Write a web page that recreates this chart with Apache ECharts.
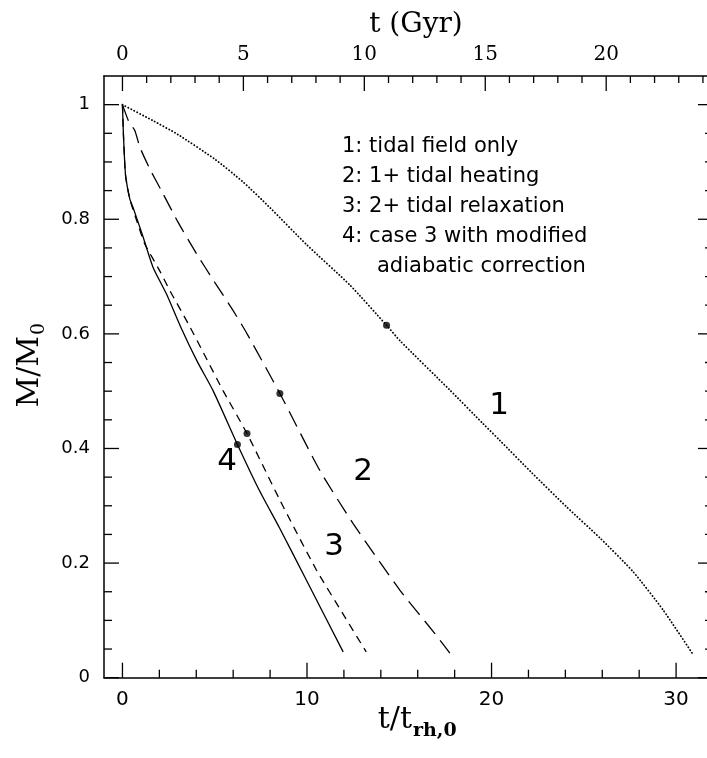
<!DOCTYPE html>
<html><head><meta charset="utf-8">
<script src="https://cdn.jsdelivr.net/npm/echarts@6.0.0/dist/echarts.min.js"></script>
<style>html,body{margin:0;padding:0;background:#fff}#c{width:707px;height:758px}</style>
</head><body><div id="c"></div>
<script>
// ---- data ----
const TRH_GYR = 0.763; // Gyr per t_rh,0 unit (top axis conversion)
const curve1 = [[0,1],[1.66,0.972],[3,0.948],[5,0.905],[6.54,0.865],[8,0.82],[10,0.755],[12.33,0.685],[14.31,0.615],[15.04,0.588],[17.74,0.502],[19.55,0.443],[20.45,0.414],[22.2,0.357],[24.07,0.298],[25.9,0.243],[27.67,0.185],[29.3,0.118],[30.93,0.04]];
const curve2 = [[0,1],[0.35,0.97],[0.67,0.955],[0.94,0.926],[1.48,0.888],[2.11,0.85],[3.01,0.795],[4.01,0.74],[5.0,0.69],[5.99,0.641],[6.72,0.602],[8.53,0.496],[10.69,0.362],[12.5,0.269],[15.03,0.153],[16.93,0.077],[17.74,0.043]];
const curve3 = [[0,1],[0.05,0.95],[0.12,0.9],[0.18,0.873],[0.4,0.835],[0.85,0.79],[1.21,0.757],[2.02,0.71],[2.56,0.676],[3.56,0.618],[4.5,0.56],[5.45,0.501],[6.75,0.426],[8.53,0.31],[10.51,0.188],[11.9,0.114],[13.21,0.045]];
const curve4 = [[0,1],[0.05,0.95],[0.12,0.9],[0.18,0.873],[0.4,0.835],[0.57,0.821],[1.12,0.769],[1.66,0.716],[2.38,0.67],[3.2,0.609],[4.05,0.552],[4.91,0.501],[6.23,0.407],[7.4,0.328],[8.5,0.262],[9.97,0.17],[11.96,0.045]];
const dots = [[14.31,0.615],[8.53,0.496],[6.75,0.426],[6.23,0.407]];
const xMajor = [0,10,20,30];
const xMinor = [2,4,6,8,12,14,16,18,22,24,26,28,32];
const gyrMajor = [0,5,10,15,20];
const gyrMinor = [1,2,3,4,6,7,8,9,11,12,13,14,16,17,18,19,21,22,23,24];
const yMajor = [0,0.2,0.4,0.6,0.8,1];
const yMinor = [0.05,0.1,0.15,0.25,0.3,0.35,0.45,0.5,0.55,0.65,0.7,0.75,0.85,0.9,0.95];
const legendLines = ['1: tidal field only','2: 1+ tidal heating','3: 2+ tidal relaxation','4: case 3 with modified','adiabatic correction'];
const curveLabels = ['1','2','3','4'];

const X_MIN=-1, X_MAX=32, Y_MIN=0, Y_MAX=1.05;
const MAJ=15, MIN_LEN=8;
const black='#000';
const serif = '"DejaVu Serif", serif';
const gothic = '"DejaVu Sans", sans-serif';

// tick table: [side(0 bottom,1 top,2 left,3 right), value, length]
const tickData = [];
xMajor.forEach(v=>tickData.push([0,v,MAJ])); xMinor.forEach(v=>tickData.push([0,v,MIN_LEN]));
gyrMajor.forEach(v=>tickData.push([1,v,MAJ])); gyrMinor.forEach(v=>tickData.push([1,v,7]));
yMajor.forEach(v=>{tickData.push([2,v,MAJ]);tickData.push([3,v,MAJ]);});
yMinor.forEach(v=>{tickData.push([2,v,MIN_LEN]);tickData.push([3,v,MIN_LEN]);});

function renderTick(params, api){
  const side=api.value(0), v=api.value(1), len=api.value(2);
  let p, q;
  if(side===0){ p=api.coord([v,Y_MIN]); q=[p[0],p[1]-len]; }
  else if(side===1){ p=api.coord([v/TRH_GYR,Y_MAX]); q=[p[0],p[1]+len]; }
  else if(side===2){ p=api.coord([X_MIN,v]); q=[p[0]+len,p[1]]; }
  else { p=api.coord([X_MAX,v]); q=[p[0]-len,p[1]]; }
  return {type:'line', shape:{x1:p[0],y1:p[1],x2:q[0],y2:q[1]}, style:{stroke:black,lineWidth:1.3}};
}
const lineBase = {type:'line', showSymbol:false, smooth:0.2};

const option = {
  animation:false,
  backgroundColor:'#fff',
  grid:{left:104, top:76, right:-6, bottom:80.3, containLabel:false, outerBoundsMode:'none'},
  xAxis:[
    {type:'value', position:'bottom', min:X_MIN, max:X_MAX,
      axisLine:{show:true,onZero:false,lineStyle:{color:black,width:1.5}},
      axisTick:{show:false}, splitLine:{show:false},
      axisLabel:{show:true, customValues:xMajor, margin:12, color:black, fontFamily:gothic, fontSize:20}},
    {type:'value', position:'top', min:X_MIN*TRH_GYR, max:X_MAX*TRH_GYR,
      axisLine:{show:true,onZero:false,lineStyle:{color:black,width:1.5}},
      axisTick:{show:false}, splitLine:{show:false},
      axisLabel:{show:true, customValues:gyrMajor, margin:11, color:black, fontFamily:serif, fontSize:20}}
  ],
  yAxis:[
    {type:'value', position:'left', min:Y_MIN, max:Y_MAX,
      axisLine:{show:true,onZero:false,lineStyle:{color:black,width:1.5}},
      axisTick:{show:false}, splitLine:{show:false},
      axisLabel:{show:true,customValues:yMajor,margin:14,color:black,fontFamily:gothic,fontSize:18}},
    {type:'value', position:'right', min:Y_MIN, max:Y_MAX,
      axisLine:{show:true,onZero:false,lineStyle:{color:black,width:1.5}},
      axisTick:{show:false}, axisLabel:{show:false}, splitLine:{show:false}}
  ],
  series:[
    {type:'custom', xAxisIndex:0, yAxisIndex:0, data:tickData, renderItem:renderTick, clip:false, silent:true,
      dimensions:['side','val','len'], encode:{x:-1,y:-1}},
    Object.assign({}, lineBase, {data:curve1, lineStyle:{color:black,width:1.8,type:[0.2,3.1],cap:'round'}}),
    Object.assign({}, lineBase, {data:curve2, lineStyle:{color:black,width:1.3,type:[17,8]}}),
    Object.assign({}, lineBase, {data:curve3, lineStyle:{color:black,width:1.3,type:[8,6]}}),
    Object.assign({}, lineBase, {data:curve4, lineStyle:{color:black,width:1.3,type:'solid'}}),
    {type:'scatter', data:dots, symbol:'circle', symbolSize:7, itemStyle:{color:black}, z:5}
  ],
  graphic:[
    {type:'text', x:416, y:25, style:{text:'t (Gyr)', font:'28px '+serif, fill:black, textAlign:'center', textVerticalAlign:'middle'}},
    {type:'group', x:30, y:362, rotation:Math.PI/2, children:[
      {type:'text', x:26, y:0, style:{text:'M/M', font:'30px '+serif, fill:black, textAlign:'right', textVerticalAlign:'middle'}},
      {type:'text', x:27, y:9, style:{text:'0', font:'19px '+serif, fill:black, textAlign:'left', textVerticalAlign:'middle'}}
    ]},
    {type:'group', x:420, y:720, children:[
      {type:'text', x:-8, y:0, style:{text:'t/t', font:'30px '+serif, fill:black, textAlign:'right', textVerticalAlign:'middle'}},
      {type:'text', x:-7, y:11, style:{text:'rh,0', font:'bold 19px '+serif, fill:black, textAlign:'left', textVerticalAlign:'middle'}}
    ]},
    {type:'text', x:342, y:147, style:{text:legendLines[0], font:'21px '+gothic, fill:black, textVerticalAlign:'middle'}},
    {type:'text', x:342, y:177, style:{text:legendLines[1], font:'21px '+gothic, fill:black, textVerticalAlign:'middle'}},
    {type:'text', x:342, y:207, style:{text:legendLines[2], font:'21px '+gothic, fill:black, textVerticalAlign:'middle'}},
    {type:'text', x:342, y:237, style:{text:legendLines[3], font:'21px '+gothic, fill:black, textVerticalAlign:'middle'}},
    {type:'text', x:377, y:267, style:{text:legendLines[4], font:'21px '+gothic, fill:black, textVerticalAlign:'middle'}},
    {type:'text', x:499, y:406, style:{text:curveLabels[0], font:'31px '+gothic, fill:black, textAlign:'center', textVerticalAlign:'middle'}},
    {type:'text', x:363, y:472, style:{text:curveLabels[1], font:'31px '+gothic, fill:black, textAlign:'center', textVerticalAlign:'middle'}},
    {type:'text', x:334, y:547, style:{text:curveLabels[2], font:'31px '+gothic, fill:black, textAlign:'center', textVerticalAlign:'middle'}},
    {type:'text', x:227, y:462, style:{text:curveLabels[3], font:'31px '+gothic, fill:black, textAlign:'center', textVerticalAlign:'middle'}}
  ]
};
const chart = echarts.init(document.getElementById('c'), null, {renderer:'canvas'});
chart.setOption(option);
</script></body></html>
